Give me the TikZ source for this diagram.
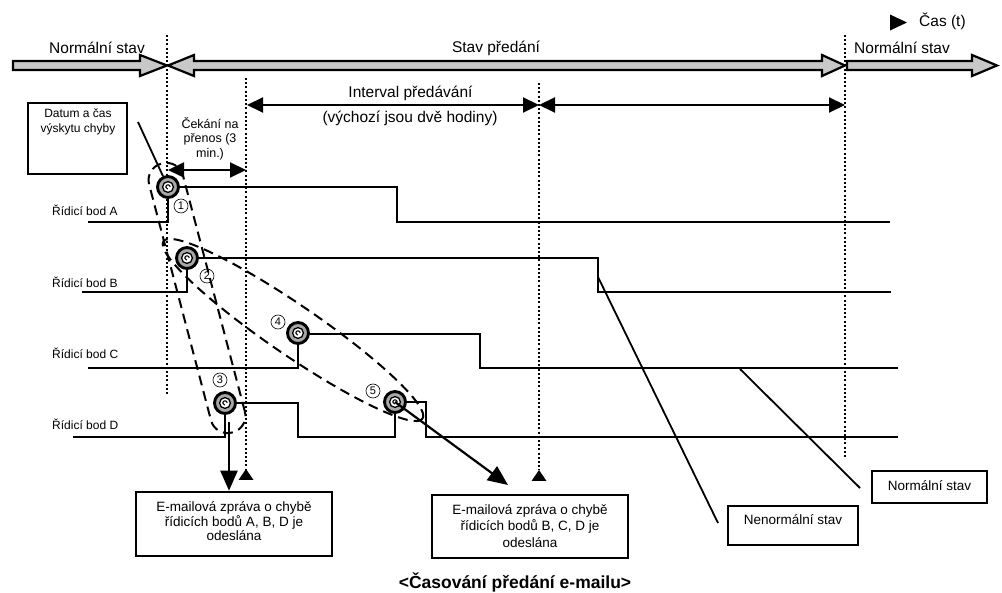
\documentclass[tikz,border=0pt]{standalone}
\usepackage{fontspec}
\setmainfont{Liberation Sans}
\usetikzlibrary{arrows.meta,shapes.geometric}
\definecolor{arrowgray}{HTML}{C8C8C8}
\definecolor{ringgray}{HTML}{A8A8A8}
\begin{document}
\begin{tikzpicture}[x=1pt,y=-1pt,
  sig/.style={line width=2.4pt, line join=miter},
  vdots/.style={line width=2pt, dash pattern=on 2pt off 2.2pt},
  dashring/.style={draw, ellipse, dash pattern=on 10pt off 6pt, line width=2pt, inner sep=0pt},
  dashcaps/.style={draw, rectangle, rounded corners=17pt, dash pattern=on 10pt off 6pt, line width=2pt, inner sep=0pt},
  fault/.style={circle, draw, line width=2.9pt, fill=ringgray, minimum size=21pt, inner sep=0pt},
  num/.style={circle, draw, line width=0.6pt, minimum size=14pt, inner sep=0pt, font=\fontsize{11}{11}\selectfont},
  blockarrow/.style={draw, line width=2.2pt, fill=arrowgray, line join=miter, miter limit=20},
  dimline/.style={line width=2pt, {Triangle[length=16pt,width=15pt]}-{Triangle[length=16pt,width=15pt]}},
  mailarrow/.style={line width=2.2pt, -{Triangle[length=20pt,width=17pt]}},
  lead/.style={line width=1.8pt},
  txtbig/.style={font=\fontsize{15.5}{18}\selectfont, inner sep=0pt},
  lbl/.style={font=\fontsize{12}{14}\selectfont, inner sep=0pt, anchor=west},
  small/.style={font=\fontsize{12.5}{14.5}\selectfont, align=center, inner sep=0pt},
  boxtxt/.style={font=\fontsize{13.5}{15}\selectfont, align=center, inner sep=0pt},
  frame/.style={draw, line width=2.6pt, inner sep=0pt}
]
\useasboundingbox (0,0) rectangle (1002,593);

% ---------- top state arrows ----------
\draw[blockarrow] (13,61) -- (140,61) -- (140,55) -- (167,65.5) -- (140,76) -- (140,70) -- (13,70) -- cycle;
\draw[blockarrow] (168,65.5) -- (194,55) -- (194,61) -- (822,61) -- (822,55) -- (845,65.5) -- (822,76) -- (822,70) -- (194,70) -- (194,76) -- cycle;
\draw[blockarrow] (847,61) -- (972,61) -- (972,55) -- (997,65.5) -- (972,76) -- (972,70) -- (847,70) -- cycle;

\node[txtbig] (tN1) at (97,48) {Normální stav};
\node[txtbig] (tSP) at (496,48) {Stav předání};
\node[txtbig, anchor=west] (tN2) at (854,48) {Normální stav};
\fill (890,14.5) -- (907,22.5) -- (890,30.5) -- cycle;
\node[txtbig, anchor=west] (tcas) at (919,21) {Čas (t)};

% ---------- vertical dotted lines ----------
\coordinate (v1t) at (167,35);  \coordinate (v1b) at (167,395);
\coordinate (v2t) at (246,78);  \coordinate (v2b) at (246,469);
\coordinate (v3t) at (539,83);  \coordinate (v3b) at (539,470);
\coordinate (v4t) at (845,35);  \coordinate (v4b) at (845,457);
\draw[vdots] (v1t) -- (v1b);
\draw[vdots] (v2t) -- (v2b);
\draw[vdots] (v3t) -- (v3b);
\draw[vdots] (v4t) -- (v4b);
\fill (v2b) -- ++(-7.5,11) -- ++(15,0) -- cycle;
\fill (v3b) -- ++(-7.5,11) -- ++(15,0) -- cycle;

% ---------- interval arrows ----------
\coordinate (i1) at (247,105);
\coordinate (i2) at (539,105);
\coordinate (i3) at (845,105);
\draw[dimline] (i1) -- (i2);
\draw[dimline] (i2) -- (i3);
\node[txtbig] (tint) at (410.5,93) {Interval předávání};
\node[txtbig] (tdef) at (410,118) {(výchozí jsou dvě hodiny)};

% waiting arrow
\coordinate (w1) at (168,170);
\coordinate (w2) at (246,170);
\draw[dimline] (w1) -- (w2);
\node[small] (twait) at (210,138.5) {Čekání na\\přenos (3\\min.)};

% ---------- date box ----------
\node[frame, minimum width=99pt, minimum height=71pt] (dbox) at (77.5,138.5) {};
\node[font=\fontsize{12}{14.5}\selectfont, align=center, inner sep=0pt, anchor=north] (dtxt) at (78,109) {Datum a čas\\výskytu chyby};

% ---------- signals ----------
\draw[sig] (88,222) -- (168,222) -- (168,187) -- (397,187) -- (397,222) -- (890,222);
\draw[sig] (82,292) -- (187,292) -- (187,258) -- (598,258) -- (598,292) -- (891,292);
\draw[sig] (88,368) -- (298,368) -- (298,334) -- (480,334) -- (480,368) -- (898,368);
\draw[sig] (73,437) -- (225,437) -- (225,403) -- (298,403) -- (298,437) -- (395,437) -- (395,402) -- (426,402) -- (426,437) -- (898,437);

\node[lbl] (lA) at (52,210) {Řídicí bod A};
\node[lbl] (lB) at (52,282) {Řídicí bod B};
\node[lbl] (lC) at (52,353) {Řídicí bod C};
\node[lbl] (lD) at (52,424) {Řídicí bod D};

% ---------- dashed groupings ----------
\node[dashcaps, minimum width=278pt, minimum height=35pt, rotate=-75.3] (ell1) at (197,298) {};
\node[dashring, minimum width=314pt, minimum height=50pt, rotate=-34.4] (ell2) at (293,330) {};

% ---------- fault markers ----------
\node[fault] (fA) at (168,187) {};
\node[fault] (fB) at (187,258) {};
\node[fault] (fC) at (298,333) {};
\node[fault] (fD) at (225,403) {};
\node[fault] (fE) at (395,402) {};
\foreach \f in {fA,fB,fC,fD,fE}{
  \draw[line width=1.3pt, fill=white] (\f.center) circle (5.4pt);
  \draw[line width=1.1pt] ([xshift=2.2pt]\f.center) arc[start angle=0, end angle=260, radius=2.2pt];
}

\node[num] (n1) at (181,206) {1};
\node[num] (n2) at (207,276) {2};
\node[num] (n3) at (220,380) {3};
\node[num] (n4) at (278,322) {4};
\node[num] (n5) at (373,391) {5};

% ---------- e-mail boxes ----------
\node[frame, minimum width=196pt, minimum height=64pt] (box1) at (234,524) {};
\node[boxtxt, font=\fontsize{13.5}{14.5}\selectfont] (b1t) at (234,521.5) {E-mailová zpráva o chybě\\řídicích bodů A, B, D je\\odeslána};
\node[frame, minimum width=196pt, minimum height=63pt] (box2) at (530,526.5) {};
\node[boxtxt, font=\fontsize{13.5}{16.7}\selectfont] (b2t) at (530,526) {E-mailová zpráva o chybě\\řídicích bodů B, C, D je\\odeslána};

\coordinate (e1s) at (229,422);
\draw[mailarrow] (e1s) -- (e1s |- box1.north);
\coordinate (e2e) at (508,485);
\draw[mailarrow] (fE.center) -- (e2e);

% ---------- state boxes ----------
\node[frame, minimum width=130pt, minimum height=39pt] (nbox) at (793,525.5) {};
\node[boxtxt] (nbt) at (793,520) {Nenormální stav};
\node[frame, minimum width=115pt, minimum height=32pt] (okbox) at (929.5,487) {};
\node[boxtxt] (okt) at (929.5,486) {Normální stav};

\coordinate (nls) at (718,523);
\coordinate (nle) at (598,277);
\draw[lead] (nls) -- (nle);
\coordinate (ols) at (860,488);
\coordinate (ole) at (740,369);
\draw[lead] (ols) -- (ole);
\coordinate (dls) at (138,122);
\draw[lead] (dls) -- (fA);

% ---------- title ----------
\node[font=\fontsize{17.5}{20}\selectfont\bfseries, inner sep=0pt] (title) at (515,582) {<Časování předání e-mailu>};
\end{tikzpicture}
\end{document}
